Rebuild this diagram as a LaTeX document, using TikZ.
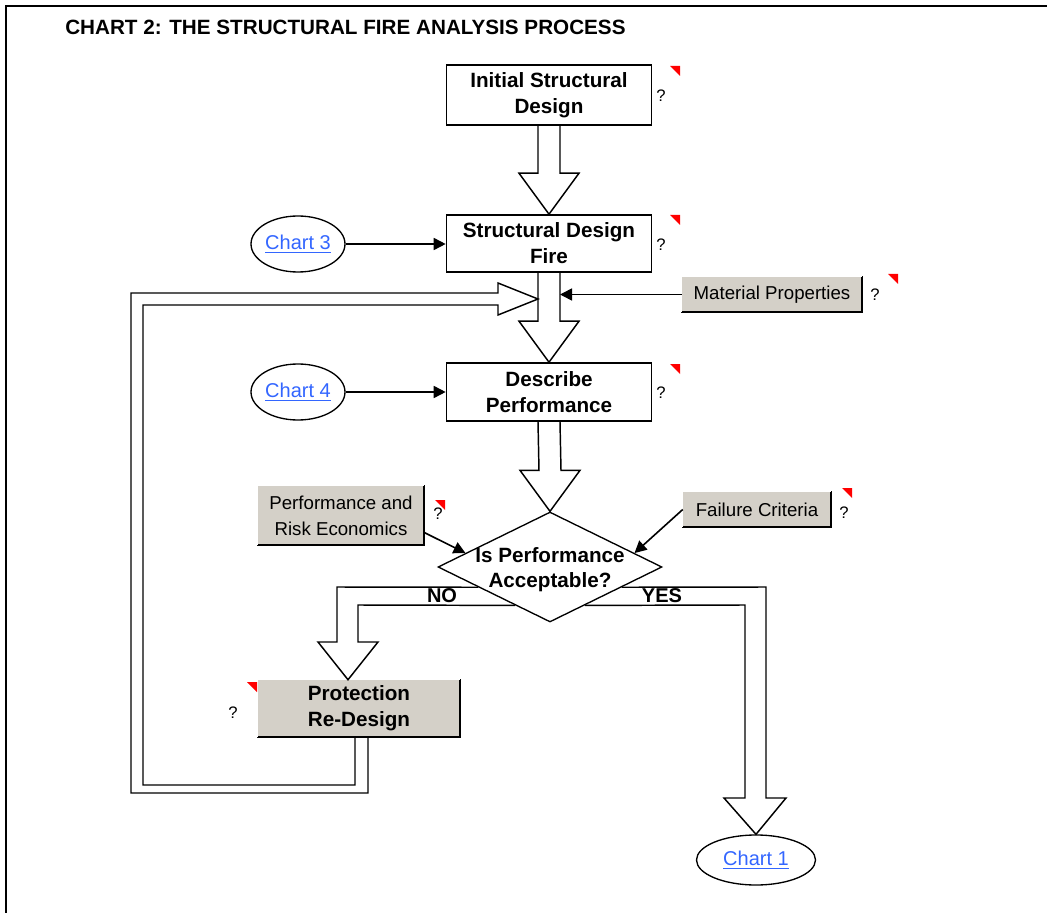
\documentclass[tikz,border=0pt]{standalone}
\usepackage{fontspec}
\setmainfont{Liberation Sans}
\usetikzlibrary{shapes.geometric,arrows.meta,calc}
\definecolor{btngray}{HTML}{D4D0C8}
\definecolor{linkblue}{HTML}{3366FF}
\definecolor{notered}{HTML}{FF0000}
% hollow block arrow pointing down: #1 = start point, #2 = tip
\newcommand{\blockdown}[2]{%
  \draw[blk] ($(#1)+(-11,0)$) -- ($(#2)+(-11,-41)$) -- ($(#2)+(-30,-41)$) -- (#2)
    -- ($(#2)+(30,-41)$) -- ($(#2)+(11,-41)$) -- ($(#1)+(11,0)$);}
% raised button edge (dark right and bottom sides)
\newcommand{\btnshadow}[1]{%
  \draw[line width=1.4pt,line cap=rect] (#1.south west) -- (#1.south east) -- (#1.north east);
  \draw[white,line width=0.8pt] (#1.south west) -- (#1.north west) -- (#1.north east);}
\begin{document}
\begin{tikzpicture}[x=0.75pt,y=-0.75pt,
  procbox/.style={draw,line width=1.2pt,fill=white,minimum width=153.75pt,inner sep=0pt,
    align=center,font=\fontsize{15.5}{19.5}\selectfont\bfseries},
  btn/.style={fill=btngray,inner sep=0pt,align=center,font=\fontsize{14}{19.5}\selectfont},
  link/.style={ellipse,draw,line width=1pt,inner sep=0pt,text=linkblue,
    font=\fontsize{15}{18}\selectfont},
  conn/.style={line width=1.2pt,-{Triangle[length=9pt,width=9pt]}},
  blk/.style={draw,line width=1.1pt,line join=miter},
  qmark/.style={font=\fontsize{12.5}{14}\selectfont,inner sep=0pt},
  note/.style={fill=notered},
  branch/.style={font=\fontsize{15}{18}\selectfont\bfseries,inner sep=0pt}
]
\useasboundingbox (0,0) rectangle (1047,913);
\fill[white] (0,0) rectangle (1047,913);
% page frame
\draw[line width=1.9pt] (6,913) -- (6,6) -- (1047,6);

\node[anchor=west,inner sep=0pt,font=\fontsize{15.5}{18}\selectfont\bfseries] (title) at (65,27)
  {CHART 2: THE STRUCTURAL FIRE ANALYSIS PROCESS};

% main process boxes
\node[procbox,minimum height=45pt] (box1) at (549,95) {Initial Structural\\Design};
\node[procbox,minimum height=42.75pt] (box2) at (549,243.5) {Structural Design\\Fire};
\node[procbox,minimum height=43.5pt] (box3) at (549,392) {Describe\\Performance};
\node[diamond,draw,line width=1pt,minimum width=168pt,minimum height=82.5pt,inner sep=0pt] (dia) at (550,567) {};
\node[align=center,inner sep=0pt,font=\fontsize{15.5}{18.75}\selectfont\bfseries] (diatext) at (550,570)
  {Is Performance\\Acceptable?};

% chart links
\node[link,minimum width=70.5pt,minimum height=42pt] (chart3) at (298,244) {\underline{Chart 3}};
\node[link,minimum width=70.5pt,minimum height=42pt] (chart4) at (298,392) {\underline{Chart 4}};
\node[link,minimum width=89.25pt,minimum height=37.5pt] (chart1) at (756,860) {\underline{Chart 1}};

% buttons
\node[btn,minimum width=135pt,minimum height=26.25pt] (matprop) at (772,294.5) {Material Properties};
\btnshadow{matprop}
\node[btn,minimum width=124.5pt,minimum height=44.25pt] (perf) at (341,515.5) {Performance and\\Risk Economics};
\btnshadow{perf}
\node[btn,minimum width=111pt,minimum height=26.25pt] (fail) at (757,509.5) {Failure Criteria};
\btnshadow{fail}
\node[btn,minimum width=151.5pt,minimum height=42.75pt,font=\fontsize{15.5}{19.5}\selectfont\bfseries] (prot) at (359,708.5) {Protection\\Re-Design};
\btnshadow{prot}

% help marks
\node[qmark] (q1) at (661,96) {?};
\node[qmark] (q2) at (661,245) {?};
\node[qmark] (q3) at (661,393) {?};
\node[qmark] (q4) at (875,295) {?};
\node[qmark] (q5) at (438,514) {?};
\node[qmark] (q6) at (844,513) {?};
\node[qmark] (q7) at (233,713) {?};

% comment indicators
\fill[note] (670,66) -- ++(10,0) -- ++(0,10) -- cycle;
\fill[note] (670,215) -- ++(10,0) -- ++(0,10) -- cycle;
\fill[note] (670,364) -- ++(10,0) -- ++(0,10) -- cycle;
\fill[note] (888,274) -- ++(10,0) -- ++(0,10) -- cycle;
\fill[note] (435,500) -- ++(10,0) -- ++(0,10) -- cycle;
\fill[note] (842,488) -- ++(10,0) -- ++(0,10) -- cycle;
\fill[note] (247,682) -- ++(10,0) -- ++(0,10) -- cycle;

% main flow
\blockdown{box1.south}{box2.north}
\blockdown{box2.south}{box3.north}
\blockdown{box3.south}{dia.north}

% inputs
\coordinate (mptip) at (560,294.5);
\coordinate (looptip) at (538,299);
\draw[conn] (chart3.east) -- (chart3.east -| box2.west);
\draw[conn] (chart4.east) -- (chart4.east -| box3.west);
\draw[conn] (matprop.west) -- (mptip);
\draw[conn] ($(perf.east)+(0,17)$) -- ($(dia.west)!0.25!(dia.north)$);
\draw[conn] (fail.west) -- ($(dia.east)!0.25!(dia.north)$);

% NO branch
\coordinate (notip) at ($(prot.north)+(-11,0)$);
\draw[blk] ($(dia.west)!0.364!(dia.south)$) -- (337,587) -- (337,642) -- (318,642) -- (notip)
  -- (378,642) -- (358,642) -- (358,605) -- ($(dia.west)!0.69!(dia.south)$);
\node[branch] (nolbl) at (442,596) {NO};

% YES branch
\draw[blk] ($(dia.east)!0.364!(dia.south)$) -- (766,587) -- (766,798) -- (786,798) -- (chart1.north)
  -- (724,798) -- (745,798) -- (745,605) -- ($(dia.east)!0.69!(dia.south)$);
\node[branch] (yeslbl) at (662,596) {YES};

% re-design loop back into the design fire
\draw[blk] ($(prot.south)+(9,0)$) -- (368,793) -- (131,793) -- (131,293) -- (498,293) -- (498,283)
  -- (looptip) -- (498,315) -- (498,305) -- (143,305) -- (143,785) -- (355,785) -- ($(prot.south)+(-4,0)$);
\end{tikzpicture}
\end{document}
